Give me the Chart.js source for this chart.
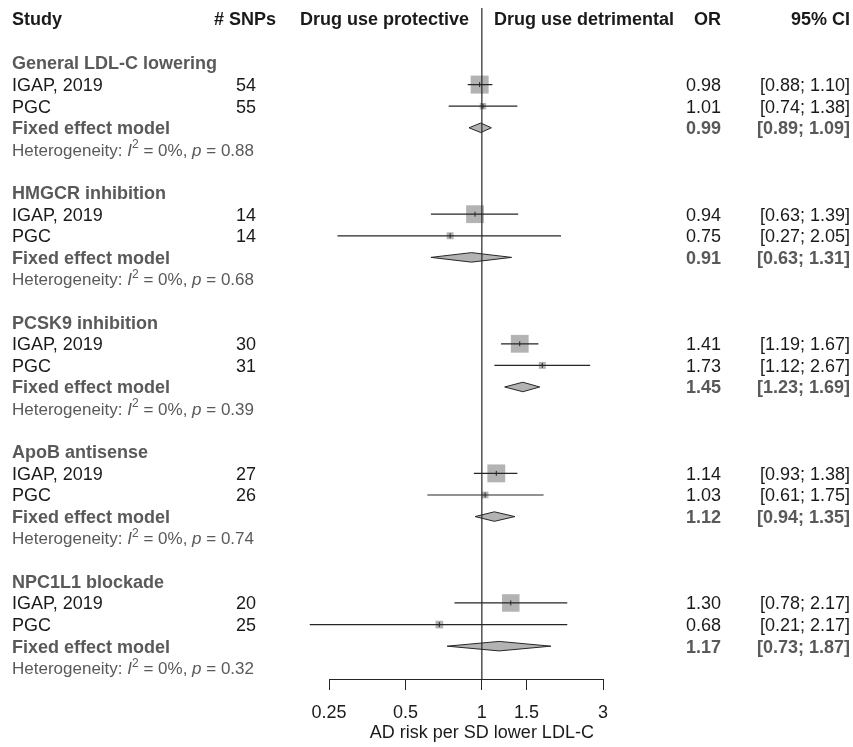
<!DOCTYPE html>
<html>
<head>
<meta charset="utf-8">
<script src="https://cdn.jsdelivr.net/npm/chart.js@4.4.1/dist/chart.umd.min.js"></script>
<style>
  html, body { margin: 0; padding: 0; background: #fff; }
  #wrap { width: 853px; height: 747px; }
</style>
</head>
<body>
<div id="wrap"><canvas id="forest"></canvas></div>
<script>
// data
const groups = ['General LDL-C lowering', 'HMGCR inhibition', 'PCSK9 inhibition', 'ApoB antisense', 'NPC1L1 blockade'];
const studies = ['IGAP, 2019', 'PGC'];
const snps = [[54, 55], [14, 14], [30, 31], [27, 26], [20, 25]];
const orValues = [[0.98, 1.01], [0.94, 0.75], [1.41, 1.73], [1.14, 1.03], [1.30, 0.68]];
const ciLower = [[0.88, 0.74], [0.63, 0.27], [1.19, 1.12], [0.93, 0.61], [0.78, 0.21]];
const ciUpper = [[1.10, 1.38], [1.39, 2.05], [1.67, 2.67], [1.38, 1.75], [2.17, 2.17]];
const weights = [[88.7, 11.3], [86.8, 13.2], [86.8, 13.2], [87.7, 12.3], [84.0, 16.0]]; // % within subgroup
const fixedOr = [0.99, 0.91, 1.45, 1.12, 1.17];
const fixedLower = [0.89, 0.63, 1.23, 0.94, 0.73];
const fixedUpper = [1.09, 1.31, 1.69, 1.35, 1.87];
const hetP = ['0.88', '0.68', '0.39', '0.74', '0.32'];
const xTicks = [0.25, 0.5, 1, 1.5, 3];
const xTitle = 'AD risk per SD lower LDL-C';

const FONT = '"Liberation Sans", Arial, sans-serif';
const DARK = '#1a1a1a';
const GREY = '#595959';
const LINE = '#262626';
const BOX = '#b3b3b3';

// row layout: header, 2 studies, fixed effect, heterogeneity, blank
const groupRow = g => g * 6;
const studyRow = (g, s) => g * 6 + 1 + s;
const fixedRow = g => g * 6 + 3;
const hetRow = g => g * 6 + 4;
const headerRow = -2.05;

// CI segments, broken with nulls
const ciData = [];
const boxData = [];
const boxRadius = [];
const tickData = [];
groups.forEach((g, gi) => {
  studies.forEach((s, si) => {
    const r = studyRow(gi, si);
    ciData.push({ x: ciLower[gi][si], y: r }, { x: ciUpper[gi][si], y: r }, { x: ciUpper[gi][si], y: null });
    boxData.push({ x: orValues[gi][si], y: r });
    boxRadius.push(1.91 * Math.sqrt(weights[gi][si]) / Math.SQRT2);
    tickData.push({ x: orValues[gi][si], y: r });
  });
});

const diamondSets = groups.map((g, gi) => {
  const r = fixedRow(gi);
  const h = 0.22;
  return {
    type: 'line',
    data: [
      { x: fixedLower[gi], y: r },
      { x: fixedOr[gi], y: r - h },
      { x: fixedUpper[gi], y: r },
      { x: fixedOr[gi], y: r + h },
      { x: fixedLower[gi], y: r }
    ],
    borderColor: LINE,
    borderWidth: 1,
    backgroundColor: BOX,
    fill: 'shape',
    pointRadius: 0,
    tension: 0,
    order: 3
  };
});

const yMin = -2.546;
const yMax = 28.52;

const textPlugin = {
  id: 'forestText',
  afterDraw(chart) {
    const ctx = chart.ctx;
    const yS = chart.scales.y;
    const xS = chart.scales.x;
    const rowY = r => yS.getPixelForValue(r) + 1.5;
    ctx.save();
    ctx.textBaseline = 'middle';
    const put = (txt, x, r, align, bold, color) => {
      ctx.font = (bold ? 'bold ' : '') + '18px ' + FONT;
      ctx.textAlign = align;
      ctx.fillStyle = color;
      ctx.fillText(txt, x, rowY(r));
    };
    put('Study', 12, headerRow, 'left', true, DARK);
    put('# SNPs', 276, headerRow, 'right', true, DARK);
    put('Drug use protective', 469, headerRow, 'right', true, DARK);
    put('Drug use detrimental', 494, headerRow, 'left', true, DARK);
    put('OR', 721, headerRow, 'right', true, DARK);
    put('95% CI', 850, headerRow, 'right', true, DARK);

    groups.forEach((g, gi) => {
      put(g, 12, groupRow(gi), 'left', true, GREY);
      studies.forEach((s, si) => {
        const r = studyRow(gi, si);
        put(s, 12, r, 'left', false, DARK);
        put(String(snps[gi][si]), 256, r, 'right', false, DARK);
        put(orValues[gi][si].toFixed(2), 721, r, 'right', false, DARK);
        put('[' + ciLower[gi][si].toFixed(2) + '; ' + ciUpper[gi][si].toFixed(2) + ']', 850, r, 'right', false, DARK);
      });
      put('Fixed effect model', 12, fixedRow(gi), 'left', true, GREY);
      put(fixedOr[gi].toFixed(2), 721, fixedRow(gi), 'right', true, GREY);
      put('[' + fixedLower[gi].toFixed(2) + '; ' + fixedUpper[gi].toFixed(2) + ']', 850, fixedRow(gi), 'right', true, GREY);

      // Heterogeneity: I^2 = 0%, p = ...
      const y = rowY(hetRow(gi));
      let x = 12;
      ctx.textAlign = 'left';
      ctx.fillStyle = GREY;
      const seg = (txt, font, dy) => {
        ctx.font = font;
        ctx.fillText(txt, x, y + (dy || 0));
        x += ctx.measureText(txt).width;
      };
      seg('Heterogeneity: ', '17px ' + FONT);
      seg('I', 'italic 17px ' + FONT);
      seg('2', '12px ' + FONT, -6);
      seg(' = 0%, ', '17px ' + FONT);
      seg('p', 'italic 17px ' + FONT);
      seg(' = ' + hetP[gi], '17px ' + FONT);
    });

    ctx.font = '18px ' + FONT;
    ctx.textAlign = 'center';
    ctx.fillStyle = DARK;
    ctx.fillText(xTitle, xS.getPixelForValue(1), 733);
    ctx.restore();
  }
};

new Chart(document.getElementById('forest'), {
  type: 'scatter',
  data: {
    datasets: [
      {
        type: 'line',
        data: [{ x: 1, y: yMin }, { x: 1, y: yMax }],
        borderColor: LINE,
        borderWidth: 1.2,
        pointRadius: 0,
        order: 0
      },
      {
        type: 'scatter',
        data: tickData,
        pointStyle: 'line',
        rotation: 90,
        pointRadius: 2.5,
        borderColor: LINE,
        borderWidth: 1,
        order: 1
      },
      {
        type: 'line',
        data: ciData,
        borderColor: LINE,
        borderWidth: 1.2,
        pointRadius: 0,
        spanGaps: false,
        clip: false,
        order: 2
      },
      ...diamondSets,
      {
        type: 'scatter',
        data: boxData,
        pointStyle: 'rect',
        pointRadius: boxRadius,
        backgroundColor: BOX,
        borderWidth: 0,
        order: 4
      }
    ]
  },
  options: {
    responsive: true,
    maintainAspectRatio: false,
    animation: false,
    events: [],
    layout: { autoPadding: false, padding: { left: 329, right: 250, top: 8, bottom: 0 } },
    plugins: { legend: { display: false }, tooltip: { enabled: false } },
    scales: {
      x: {
        type: 'logarithmic',
        min: 0.25,
        max: 3,
        afterBuildTicks: scale => { scale.ticks = xTicks.map(v => ({ value: v })); },
        afterFit: scale => { scale.height = 68; },
        ticks: {
          autoSkip: false,
          maxRotation: 0,
          padding: 12,
          color: DARK,
          font: { family: FONT, size: 18 },
          callback: v => String(v)
        },
        grid: { drawOnChartArea: false, drawTicks: true, tickLength: 11, color: LINE, lineWidth: 1 },
        border: { display: true, color: LINE, width: 1 }
      },
      y: {
        type: 'linear',
        min: yMin,
        max: yMax,
        reverse: true,
        display: false
      }
    }
  },
  plugins: [textPlugin]
});
</script>
</body>
</html>
